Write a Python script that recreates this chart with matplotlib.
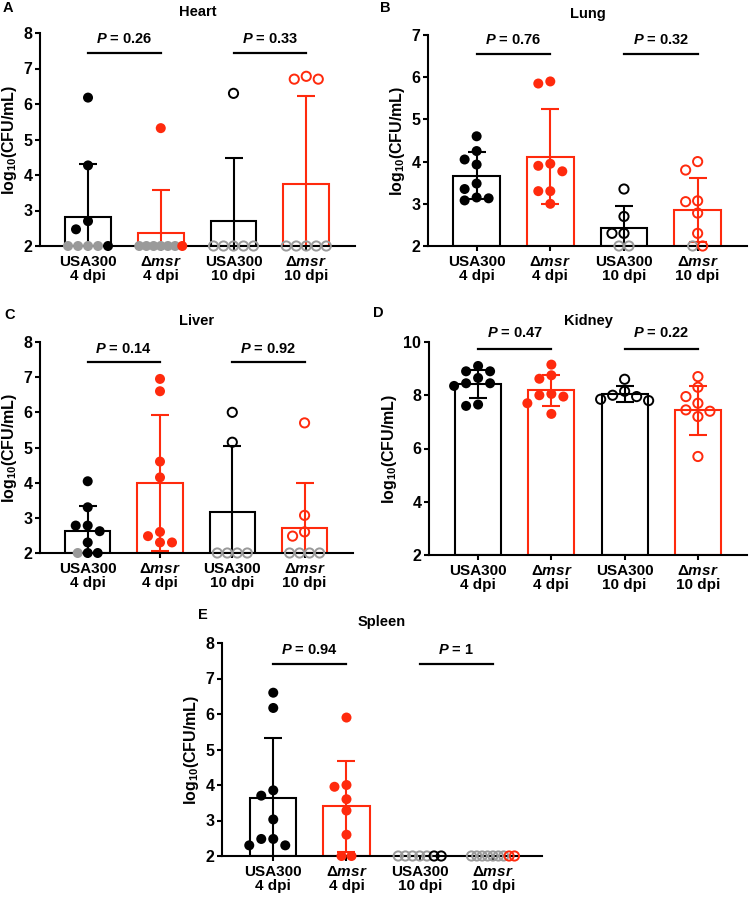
import numpy as np
import matplotlib
matplotlib.use("Agg")
import matplotlib.pyplot as plt

plt.rcParams['font.family'] = ['Liberation Sans', 'DejaVu Sans']
plt.rcParams['font.weight'] = 'bold'
plt.rcParams['mathtext.fontset'] = 'custom'
plt.rcParams['mathtext.rm'] = 'Liberation Sans:bold'
plt.rcParams['mathtext.it'] = 'Liberation Sans:italic:bold'
plt.rcParams['mathtext.bf'] = 'Liberation Sans:bold'

# ---- data (log10 CFU/mL) ----
groups = ["USA300\n4 dpi", "Δ$\\mathit{msr}$\n4 dpi", "USA300\n10 dpi", "Δ$\\mathit{msr}$\n10 dpi"]
LOD = 2.0

heart_pts = [[6.18, 4.27, 2.7, 2.47, 2.0], [5.32, 2.0], [6.3], [6.78, 6.7, 6.7]]
heart_gray = [4, 6, 5, 5]
heart_mean = [2.83, 2.38, 2.70, 3.75]
heart_sd = [1.47, 1.20, 1.77, 2.47]
heart_p = ["0.26", "0.33"]

lung_pts = [[4.6, 4.25, 4.05, 3.93, 3.48, 3.35, 3.15, 3.13, 3.08],
            [5.9, 5.85, 3.95, 3.9, 3.77, 3.3, 3.3, 3.0],
            [3.35, 2.7, 2.3, 2.3],
            [4.0, 3.8, 3.07, 3.05, 2.78, 2.3, 2.0]]
lung_gray = [0, 0, 2, 1]
lung_mean = [3.67, 4.12, 2.42, 2.86]
lung_sd = [0.55, 1.13, 0.53, 0.76]
lung_p = ["0.76", "0.32"]

liver_pts = [[4.04, 3.3, 2.78, 2.78, 2.62, 2.3, 2.0, 2.0],
             [6.95, 6.6, 4.6, 4.15, 2.6, 2.48, 2.3, 2.3],
             [6.0, 5.15],
             [5.7, 3.07, 2.6, 2.48]]
liver_gray = [1, 0, 4, 4]
liver_mean = [2.62, 3.98, 3.18, 2.72]
liver_sd = [0.71, 1.93, 1.87, 1.28]
liver_p = ["0.14", "0.92"]

kidney_pts = [[9.1, 8.9, 8.9, 8.65, 8.45, 8.45, 8.35, 7.65, 7.6],
              [9.15, 8.75, 8.62, 8.05, 8.0, 7.95, 7.7, 7.3],
              [8.6, 8.15, 8.0, 7.95, 7.85, 7.8],
              [8.7, 8.3, 7.95, 7.7, 7.45, 7.4, 7.2, 5.7]]
kidney_gray = [0, 0, 0, 0]
kidney_mean = [8.41, 8.19, 8.05, 7.44]
kidney_sd = [0.52, 0.58, 0.30, 0.92]
kidney_p = ["0.47", "0.22"]

spleen_pts = [[6.6, 6.17, 3.85, 3.7, 3.03, 2.48, 2.48, 2.3, 2.3],
              [5.9, 4.0, 3.95, 3.6, 3.28, 2.6, 2.0, 2.0],
              [2.0, 2.0],
              [2.0, 2.0]]
spleen_gray = [0, 0, 5, 7]
spleen_mean = [3.64, 3.40, 2.0, 2.0]
spleen_sd = [1.68, 1.28, 0.0, 0.0]
spleen_p = ["0.94", "1"]

RED = '#ff2a0d'
GRAY = '#9a9a9a'
colors = ['black', RED, 'black', RED]
filled = [True, True, False, False]

FW, FH = 750, 898
fig = plt.figure(figsize=(FW / 100, FH / 100), dpi=100)


def add_ax(left, top, right, bottom):
    return fig.add_axes([left / FW, 1 - bottom / FH, (right - left) / FW, (bottom - top) / FH])


def place_points(ax, xc, pts, ngray):
    """simple dot-plot layout: baseline row spread evenly, other points swarmed"""
    T = ax.transData
    x0 = T.transform((0, 0))[0]
    ux = T.transform((1, 0))[0] - x0
    y0 = T.transform((0, 0))[1]
    uy = T.transform((0, 1))[1] - y0
    diam = 10.0
    row = [('g', LOD)] * ngray + [('c', v) for v in pts if v == LOD]
    rest = sorted([v for v in pts if v != LOD], reverse=True)
    out = []
    placed = []
    n = len(row)
    if n:
        step = min(diam, 43.0 / max(n - 1, 1))
        for i, (kind, v) in enumerate(row):
            dx = (i - (n - 1) / 2) * step
            out.append((kind, xc + dx / ux, v))
            placed.append((dx, v * uy))
    for v in rest:
        py = v * uy
        for k in [0, -1, 1, -2, 2, -3, 3]:
            dx = k * diam * 1.2
            if all(np.hypot(dx - a, py - b) >= diam * 0.95 for a, b in placed):
                break
        placed.append((dx, py))
        out.append(('c', xc + dx / ux, v))
    return out


def draw_panel(box, title, pts, gray, mean, sd, pvals, ymax, yticks,
               xleft, pline, ptext):
    ax = add_ax(*box)
    x = np.arange(4)
    ax.set_xlim(xleft, 3.67)
    ax.set_ylim(LOD, ymax)
    for i in range(4):
        if mean[i] > LOD:
            ax.bar(x[i], mean[i] - LOD, bottom=LOD, width=0.63, facecolor='none',
                   edgecolor=colors[i], linewidth=1.5, zorder=1)
        if sd[i] > 0:
            ax.errorbar(x[i], mean[i], yerr=sd[i], fmt='none', ecolor=colors[i],
                        elinewidth=1.5, capsize=6.5, capthick=1.5, zorder=2)
        for kind, px, v in place_points(ax, x[i], pts[i], gray[i]):
            c = GRAY if kind == 'g' else colors[i]
            if filled[i]:
                ax.scatter(px, v, s=52, color=c, edgecolors='none', zorder=3, clip_on=False)
            else:
                ax.scatter(px, v, s=44, facecolors='none', edgecolors=c,
                           linewidths=1.4, zorder=3, clip_on=False)
    for j, p in enumerate(pvals):
        a, b = x[2 * j], x[2 * j + 1]
        ax.plot([a, b], [pline, pline], color='black', lw=1.6, clip_on=False)
        ax.text((a + b) / 2, ptext, "$\\mathit{P}$ = " + p, ha='center', va='center',
                fontsize=10.5, fontweight='bold', clip_on=False)
    ax.spines['top'].set_visible(False)
    ax.spines['right'].set_visible(False)
    for s in ['left', 'bottom']:
        ax.spines[s].set_linewidth(1.5)
    ax.set_yticks(yticks)
    ax.set_xticks(x)
    ax.set_xticklabels(groups, fontsize=11, fontweight='bold', linespacing=1.0)
    ax.tick_params(axis='y', labelsize=11.5, width=1.5, length=3.5, pad=2)
    ax.tick_params(axis='x', width=1.5, length=3.5, pad=3)
    for lab in ax.get_yticklabels():
        lab.set_fontweight('bold')
    ax.set_ylabel("log$_{10}$(CFU/mL)", fontsize=11.5, fontweight='bold', labelpad=3)
    ax.set_title(title, fontsize=10.5, fontweight='bold', pad=12)
    return ax


draw_panel((40, 33, 355, 246), 'Heart', heart_pts, heart_gray, heart_mean, heart_sd,
           heart_p, 8, range(2, 9), -0.66, 7.45, 7.83)
draw_panel((428, 35, 747, 246), 'Lung', lung_pts, lung_gray, lung_mean, lung_sd,
           lung_p, 7, range(2, 8), -0.66, 6.55, 6.87)
draw_panel((40, 342, 353, 553), 'Liver', liver_pts, liver_gray, liver_mean, liver_sd,
           liver_p, 8, range(2, 9), -0.66, 7.42, 7.8)
draw_panel((429, 342, 747, 555), 'Kidney', kidney_pts, kidney_gray, kidney_mean, kidney_sd,
           kidney_p, 10, range(2, 11, 2), -0.67, 9.75, 10.33)
draw_panel((222, 643, 542, 856), 'Spleen', spleen_pts, spleen_gray, spleen_mean, spleen_sd,
           spleen_p, 8, range(2, 9), -0.7, 7.42, 7.8)

for letter, px, py in [('A', 8, 8), ('B', 385, 8), ('C', 10, 315), ('D', 378, 313), ('E', 203, 615)]:
    fig.text(px / FW, 1 - py / FH, letter, fontsize=10.5, fontweight='bold', ha='center', va='center')

fig.savefig('out.png', dpi=100)
